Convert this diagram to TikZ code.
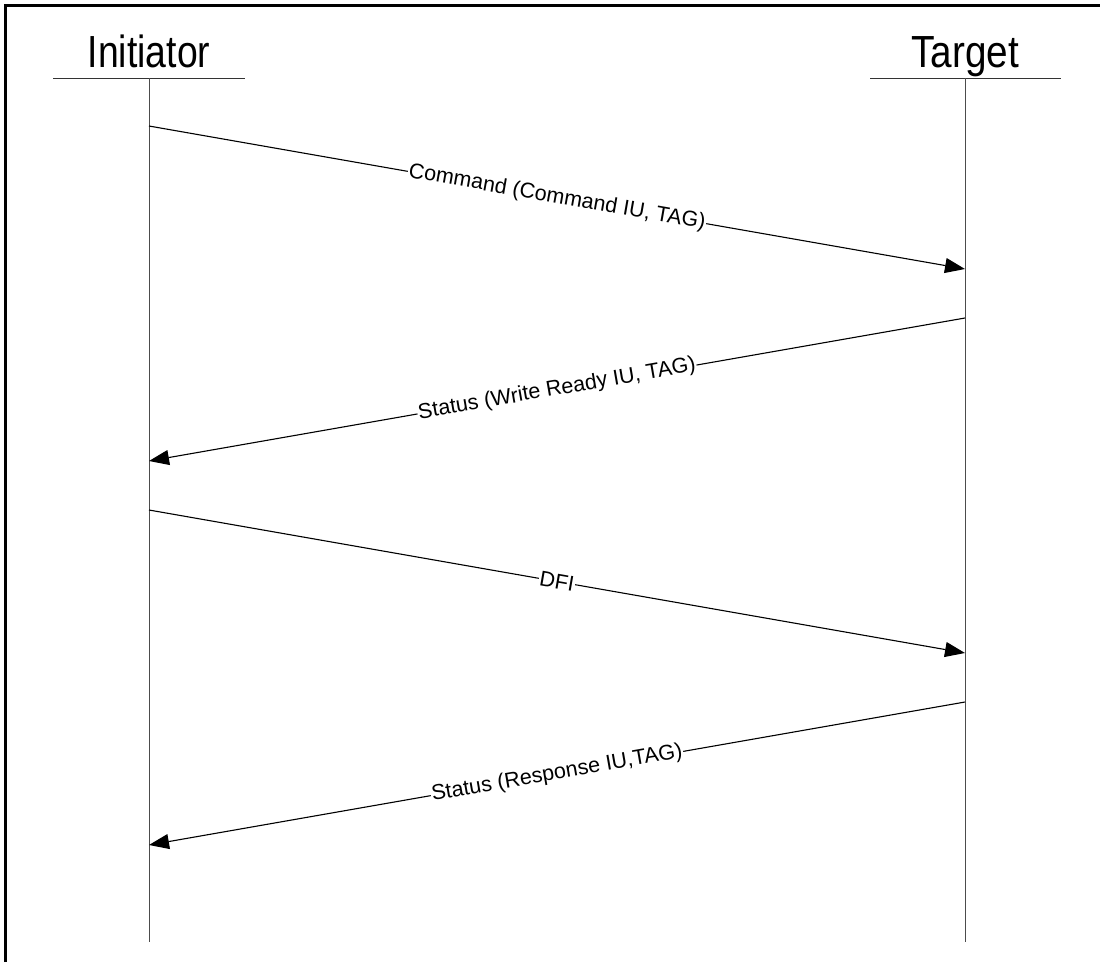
\documentclass[tikz,border=0pt]{standalone}
\usepackage{fontspec}
\setmainfont{Liberation Sans}
\usetikzlibrary{arrows.meta}
\tikzset{
  head/.style={anchor=base, inner sep=0pt, font=\fontsize{45}{45}\selectfont},
  lifeline/.style={draw=black!70, line width=1pt},
  headline/.style={draw=black!80, line width=1pt},
  msg/.style={draw=black, line width=1.1pt, -{Triangle[length=20pt,width=15pt]}},
  msglabel/.style={fill=white, inner sep=1pt, font=\fontsize{21.5}{21.5}\selectfont, sloped, midway},
  frameline/.style={draw=black, line width=3pt}
}
\begin{document}
\begin{tikzpicture}[x=1pt,y=-1pt]
\useasboundingbox (0,0) rectangle (1100,962);
% frame
\coordinate (fl) at (5,962);
\coordinate (fc) at (5,5);
\coordinate (fr) at (1100,5);
\draw[frameline] (fl) -- (fc) -- (fr);
% headers
\node[head] (ini) at (149,67) {\scalebox{0.83}[1]{Initiator}};
\node[head] (tgt) at (965,67) {\scalebox{0.86}[1]{Target}};
\coordinate (ihl) at (53,78);
\coordinate (ihr) at (245,78);
\coordinate (thl) at (870,78);
\coordinate (thr) at (1061,78);
\draw[headline] (ihl) -- (ihr);
\draw[headline] (thl) -- (thr);
% lifelines
\coordinate (itop) at (149,78);
\coordinate (ibot) at (149,942);
\coordinate (ttop) at (965,78);
\coordinate (tbot) at (965,942);
\draw[lifeline] (itop) -- (ibot);
\draw[lifeline] (ttop) -- (tbot);
% message endpoints
\coordinate (m1s) at (149,126);
\coordinate (m1e) at (965,269);
\coordinate (m2s) at (965,318);
\coordinate (m2e) at (149,461);
\coordinate (m3s) at (149,510);
\coordinate (m3e) at (965,653);
\coordinate (m4s) at (965,702);
\coordinate (m4e) at (149,845);
\draw[msg] (m1s) -- node[msglabel] {Command (Command IU, TAG)} (m1e);
\draw[msg] (m2s) -- node[msglabel] {Status (Write Ready IU, TAG)} (m2e);
\draw[msg] (m3s) -- node[msglabel] {DFI} (m3e);
\draw[msg] (m4s) -- node[msglabel] {Status (Response IU,TAG)} (m4e);
\end{tikzpicture}
\end{document}
